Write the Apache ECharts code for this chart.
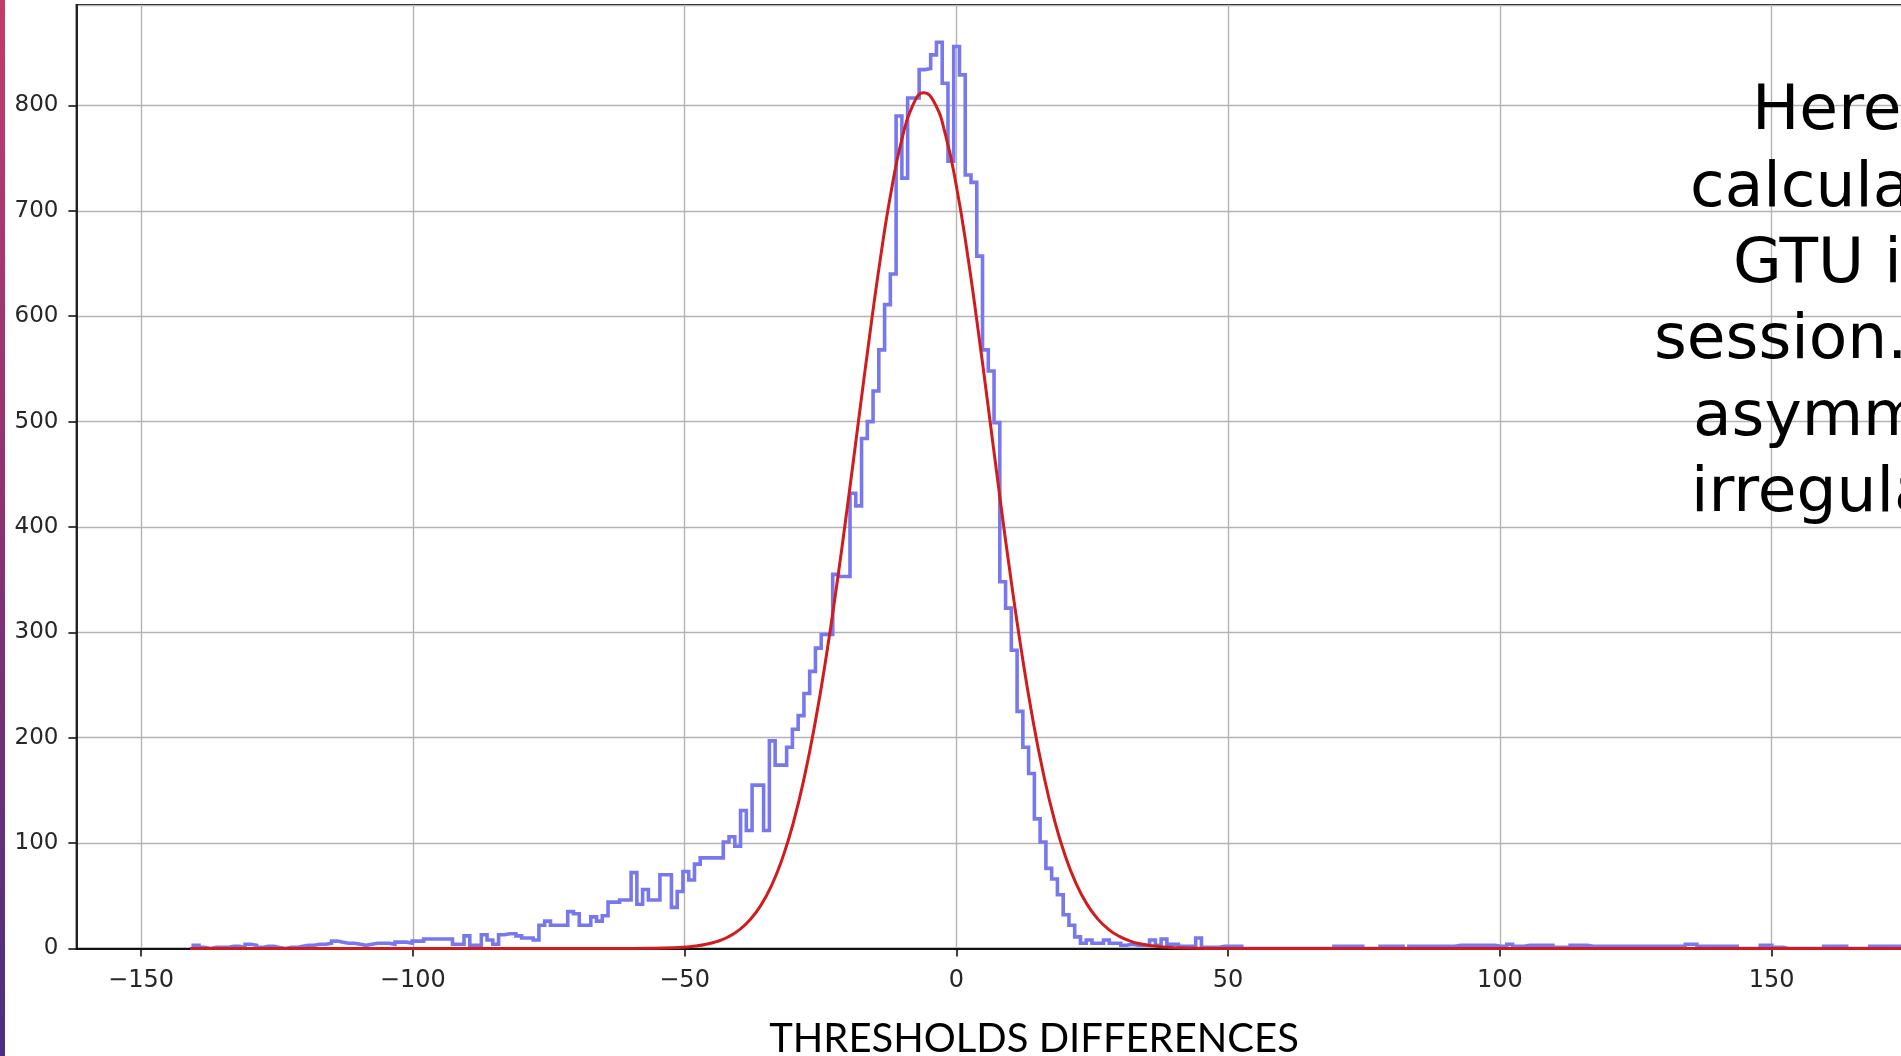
<!DOCTYPE html>
<html>
<head>
<meta charset="utf-8">
<script src="https://cdn.jsdelivr.net/npm/echarts@6/dist/echarts.min.js"></script>
<style>
  html, body { margin: 0; padding: 0; background: #ffffff; overflow: hidden; }
  #chart { width: 1901px; height: 1056px; }
</style>
</head>
<body>
<div id="chart"></div>
<script>
// Histogram of threshold differences: first bin edge, bin width and counts per bin
const binStart = -140.4;
const binWidth = 1.06;
const counts = [
  3, 1, 0, 1, 1, 1, 2, 2, 1, 4, 3, 1, 2, 2, 1, 0, 1, 1, 2, 3,
  3, 4, 4, 5, 7, 6, 5, 5, 4, 3, 4, 5, 5, 5, 4, 6, 6, 5, 7, 7,
  9, 9, 9,
  9, 9, 4, 4, 12, 3, 3, 13, 8, 4, 13, 14, 14, 12, 10, 10, 8, 22, 26, 22,
  22, 22, 35, 33, 22, 22, 30, 26, 31, 44, 44, 46, 46, 72, 42, 56, 46, 46, 70, 70,
  39, 54, 73, 65, 80,
  86, 86, 86, 86, 101, 106, 97, 131, 112, 155, 155, 112, 197, 174, 174, 191, 208, 221, 242, 263,
  285, 298, 298, 355, 353, 353,
  432, 420, 484, 500, 529, 568, 611, 640, 790, 731, 807, 807, 834, 835, 848, 860, 821, 747, 856, 829,
  734, 727, 657, 568, 548, 499, 348,
  323, 283, 225, 191, 166, 123, 101, 76, 66, 51, 32, 22, 11, 5, 8, 5, 5, 8, 5,
  5, 3, 4, 3, 3, 3, 8, 3, 9, 4, 4, 2, 2, 2, 10, 1, 1, 1, 2, 2, 2, 2,
  0, 0, 0, 0, 0, 0, 0, 0, 0, 0, 0, 0, 0, 0, 0, 0,
  2, 2, 2, 2, 2, 0, 0, 0, 2, 2, 2, 2, 0,
  2, 2, 2, 2, 2, 2, 2, 2,
  3, 3, 3, 3, 3, 3, 3,
  2, 2, 4, 2, 2,
  3, 3, 3, 3, 3,
  1, 1, 1,
  3, 3, 3,
  2, 2, 2, 2, 2, 2, 2, 2, 2, 2, 2, 2, 2, 2, 2, 2, 2,
  4, 4,
  2, 2, 2, 2, 2, 2, 2,
  0, 0, 0, 0,
  3, 3, 1, 1,
  0, 0, 0, 0, 0, 0, 0,
  2, 2, 2, 2,
  0, 0, 0, 0,
  2, 2, 2, 2, 2, 2, 2, 2, 2
];

// Gaussian fit curve, sampled along x
const fitX = [
  -141, -60, -56, -52,
  -50, -48, -46, -44, -42, -40, -38, -36, -34, -32,
  -30, -28, -26, -24, -22, -20, -18, -16, -14, -12,
  -10, -8, -6, -4, -2, 0, 2, 4, 6, 8,
  10, 12, 14, 16, 18, 20, 22, 24, 26, 28,
  30, 32, 34, 36, 38, 40,
  44, 48, 178
];
const fitY = [
  0, 0.05, 0.2, 0.7,
  1.3, 2.3, 4.0, 6.7, 10.9, 17.4, 27.0, 40.7, 59.7, 85.5,
  119.1, 161.7, 213.6, 275.0, 344.8, 420.9, 500.5, 579.6, 653.7, 718.1,
  768.2, 800.2, 812, 802.3, 772.2, 723.7, 660.7, 587.3, 508.6, 428.8,
  352.2, 281.7, 219.4, 166.4, 122.9, 88.4, 62.0, 42.3, 28.1, 18.2,
  11.5, 7.0, 4.2, 2.5, 1.4, 0.8,
  0.2, 0, 0
];

// Axis ranges
const xRange = [-161.9, 190];
const yRange = [0, 895.5];

// Side note lines (left part of each line)
const noteLines = ['Here the', 'calculated', 'GTU in the', 'session. It is', 'asymmetric', 'irregular.'];
const axisTitle = 'THRESHOLDS DIFFERENCES';

// Outline of the step histogram from bin edges and counts
const stepPoints = [];
for (let k = 0; k < counts.length; k++) {
  const left = +(binStart + k * binWidth).toFixed(4);
  const right = +(binStart + (k + 1) * binWidth).toFixed(4);
  if (k === 0) stepPoints.push([left, 0]);
  stepPoints.push([left, counts[k]], [right, counts[k]]);
  if (k === counts.length - 1) stepPoints.push([right, 0]);
}
const fitPoints = fitX.map((x, i) => [x, fitY[i]]);

// Plot area in pixels
const plotLeft = 76.4, plotTop = 4.8;
const pxPerX = 5.435, pxPerY = 1.0538;
const plotW = (xRange[1] - xRange[0]) * pxPerX;
const plotH = (yRange[1] - yRange[0]) * pxPerY;

const minusFmt = v => (v < 0 ? '\u2212' + Math.abs(v) : String(v));

const noteLeft = [1752, 1690, 1733, 1654, 1693, 1691];
const noteBase = [132, 208.5, 285, 361, 437.5, 514];

const graphics = [
  {
    type: 'rect', z: 100,
    shape: { x: 0, y: 0, width: 5, height: 1056 },
    style: {
      fill: new echarts.graphic.LinearGradient(0, 0, 0, 1, [
        { offset: 0, color: '#c23c6b' },
        { offset: 0.5, color: '#8a3272' },
        { offset: 1, color: '#4a2f80' }
      ])
    }
  },
  {
    type: 'text', z: 100, x: 1034, y: 1039,
    style: {
      text: axisTitle, font: '40px Lato', fill: '#000000',
      align: 'center', verticalAlign: 'middle',
      textAlign: 'center', textVerticalAlign: 'middle'
    }
  }
];
noteLines.forEach((line, i) => {
  graphics.push({
    type: 'text', z: 100, x: noteLeft[i], y: noteBase[i] - 19,
    style: {
      text: line, font: '63px "DejaVu Sans"', fill: '#000000',
      align: 'left', verticalAlign: 'middle',
      textAlign: 'left', textVerticalAlign: 'middle'
    }
  });
});

const chart = echarts.init(document.getElementById('chart'), null, { renderer: 'canvas' });
chart.setOption({
  animation: false,
  backgroundColor: '#ffffff',
  grid: {
    left: plotLeft, top: plotTop, width: plotW, height: plotH,
    containLabel: false, outerBoundsMode: 'none',
    show: true, borderColor: '#111111', borderWidth: 1.6, backgroundColor: '#ffffff'
  },
  xAxis: {
    type: 'value', min: xRange[0], max: xRange[1],
    splitNumber: 7, minInterval: 50, maxInterval: 50,
    axisLine: { show: true, onZero: false, lineStyle: { color: '#111111', width: 1.8 } },
    axisTick: { show: true, length: 8, lineStyle: { color: '#111111', width: 1.6 } },
    axisLabel: {
      show: true, margin: 20, fontFamily: 'DejaVu Sans', fontSize: 24, color: '#262626',
      showMinLabel: false, showMaxLabel: false, formatter: minusFmt
    },
    splitLine: { show: true, lineStyle: { color: '#b4b4b4', width: 1.4 } }
  },
  yAxis: {
    type: 'value', min: yRange[0], max: yRange[1], interval: 100,
    axisLine: { show: true, onZero: false, lineStyle: { color: '#111111', width: 1.8 } },
    axisTick: { show: true, length: 8, lineStyle: { color: '#111111', width: 1.6 } },
    axisLabel: {
      show: true, margin: 18, fontFamily: 'DejaVu Sans', fontSize: 23, color: '#262626',
      showMaxLabel: false, formatter: minusFmt
    },
    splitLine: { show: true, lineStyle: { color: '#b4b4b4', width: 1.4 } }
  },
  series: [
    {
      name: 'histogram', type: 'line', data: stepPoints,
      showSymbol: false, symbol: 'none', z: 3,
      lineStyle: { color: '#7878ee', width: 3.6, join: 'miter' }
    },
    {
      name: 'fit', type: 'line', data: fitPoints,
      showSymbol: false, symbol: 'none', smooth: 0.5, z: 4,
      lineStyle: { color: '#d01c1c', width: 3 }
    }
  ],
  graphic: graphics
});
</script>
</body>
</html>
